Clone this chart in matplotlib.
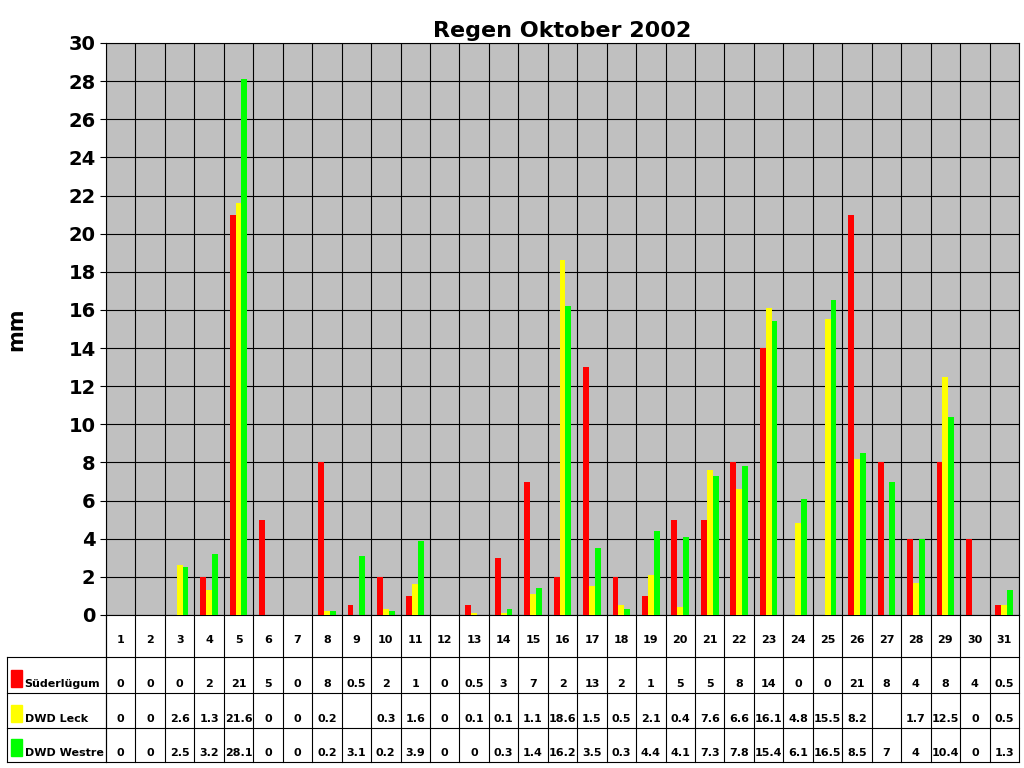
import numpy as np
import matplotlib.pyplot as plt
from matplotlib.transforms import blended_transform_factory
from matplotlib.patches import Rectangle

days = list(range(1, 32))
suederluegum = [0, 0, 0, 2, 21, 5, 0, 8, 0.5, 2, 1, 0, 0.5, 3, 7, 2, 13, 2, 1, 5, 5, 8, 14, 0, 0, 21, 8, 4, 8, 4, 0.5]
leck = [0, 0, 2.6, 1.3, 21.6, 0, 0, 0.2, None, 0.3, 1.6, 0, 0.1, 0.1, 1.1, 18.6, 1.5, 0.5, 2.1, 0.4, 7.6, 6.6, 16.1, 4.8, 15.5, 8.2, None, 1.7, 12.5, 0, 0.5]
westre = [0, 0, 2.5, 3.2, 28.1, 0, 0, 0.2, 3.1, 0.2, 3.9, 0, 0, 0.3, 1.4, 16.2, 3.5, 0.3, 4.4, 4.1, 7.3, 7.8, 15.4, 6.1, 16.5, 8.5, 7, 4, 10.4, 0, 1.3]
names = ["Süderlügum", "DWD Leck", "DWD Westre"]
colors = ["#FF0000", "#FFFF00", "#00FF00"]
series = [suederluegum, leck, westre]

fig = plt.figure(figsize=(10.24, 7.68), dpi=100)
ax = fig.add_axes([106/1024, 1-615/768, 913/1024, 572/768])
ax.set_facecolor("#C0C0C0")

x = np.arange(len(days))
w = 0.2
for i, (s, c) in enumerate(zip(series, colors)):
    vals = np.array([np.nan if v is None else v for v in s], dtype=float)
    ax.bar(x + (i - 1) * w, vals, width=w, color=c, zorder=3)

ax.set_xlim(-0.5, len(days) - 0.5)
ax.set_ylim(0, 30)
ax.set_yticks(range(0, 31, 2))
ax.tick_params(axis="y", labelsize=14, length=4)
for lab in ax.get_yticklabels():
    lab.set_fontweight("bold")
ax.set_xticks([])
ax.yaxis.grid(True, color="black", linewidth=0.8, zorder=0)
for b in np.arange(len(days) + 1) - 0.5:
    ax.axvline(b, color="black", linewidth=0.8, zorder=1)
for sp in ax.spines.values():
    sp.set_color("black")
ax.set_ylabel("mm", fontsize=15, fontweight="bold", labelpad=30)
ax.set_title("Regen Oktober 2002", fontsize=16, fontweight="bold", pad=4)

# data table below the axis
tr = blended_transform_factory(ax.transData, ax.transAxes)
h = 572
def ay(py):
    return (615 - py) / h

row_lines = [657, 693, 728, 762]
row_text = [640, 684, 719, 753]
x0 = -0.5 - 99 / 913 * len(days)
kw = dict(transform=tr, clip_on=False, color="black", linewidth=0.8)
ax.plot([-0.5, -0.5], [ay(615), ay(762)], **kw)
ax.plot([x0, x0], [ay(657), ay(762)], **kw)
for b in np.arange(len(days) + 1) - 0.5:
    ax.plot([b, b], [0, ay(762)], **kw)
for ly in row_lines:
    ax.plot([x0, len(days) - 0.5], [ay(ly), ay(ly)], **kw)

for d in x:
    ax.text(d, ay(row_text[0]), str(days[d]), transform=tr, ha="center", va="center", fontsize=8, fontweight="bold")
for r, (s, name, c) in enumerate(zip(series, names, colors)):
    yy = ay(row_text[r + 1])
    for d in x:
        if s[d] is not None:
            ax.text(d, yy, f"{s[d]:g}", transform=tr, ha="center", va="center", fontsize=8, fontweight="bold")
    ax.add_patch(Rectangle((x0 + 0.12, yy - 0.005), 0.4, 0.03, transform=tr, color=c, clip_on=False))
    ax.text(x0 + 0.6, yy, name, transform=tr, ha="left", va="center", fontsize=8, fontweight="bold")

fig.savefig("out.png", dpi=100, facecolor="white")
